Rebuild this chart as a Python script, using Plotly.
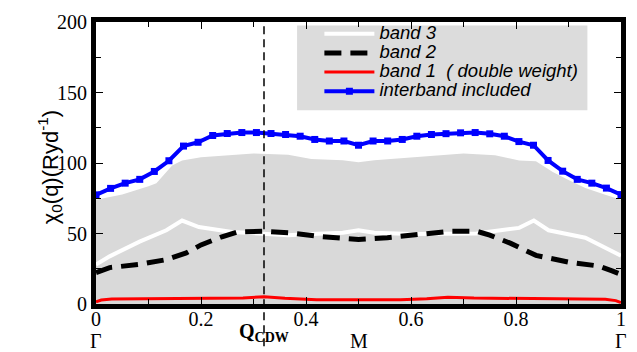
import plotly.graph_objects as go

# ---------------- data ----------------
q_inter = [i / 36 for i in range(37)]
chi_inter = [77.4, 82.0, 85.7, 88.4, 94.0, 101.6, 112.0, 114.7, 119.5, 120.9, 121.6, 121.6, 120.9,
             120.2, 119.0, 116.7, 115.6, 115.6, 112.6, 115.6, 115.6, 116.7, 119.0, 120.2,
             120.8, 121.4, 121.6, 120.7, 119.0, 115.2, 112.6, 101.8, 94.2, 88.4, 85.7, 82.2, 77.6]

q_fill = [0, 0.05, 0.1, 0.115, 0.145, 0.164, 0.2, 0.24, 0.3, 0.366, 0.41, 0.47, 0.5, 0.53,
          0.6, 0.65, 0.7, 0.76, 0.806, 0.838, 0.87, 0.9, 0.932, 0.97, 1.0]
chi_fill = [74, 77.6, 83.5, 85.7, 98.3, 101.8, 104, 105.2, 106.8, 105.9, 102.9, 102, 100.6, 102,
            104, 105.2, 106.8, 105.5, 101.8, 101.3, 93.7, 88, 82.2, 77.5, 74]

q_band3 = [0, 0.026, 0.083, 0.134, 0.164, 0.196, 0.259, 0.303, 0.366, 0.41, 0.47, 0.5, 0.53,
           0.6, 0.65, 0.725, 0.745, 0.806, 0.834, 0.862, 0.932, 0.976, 1.0]
chi_band3 = [28, 33.8, 44.2, 52.3, 59.2, 54.6, 51.1, 50, 48.8, 49.6, 50.5, 52.3, 50.5,
             49.6, 49.6, 50, 51, 54, 59.2, 52.3, 47, 38.9, 34.3]

q_band2 = [0, 0.026, 0.083, 0.134, 0.172, 0.2, 0.24, 0.27, 0.32, 0.366, 0.43, 0.5, 0.555,
           0.611, 0.674, 0.725, 0.75, 0.79, 0.838, 0.9, 0.958, 0.983, 1.0]
chi_band2 = [22.3, 25.8, 28.1, 31.5, 36.2, 41.9, 47.7, 51.1, 51.6, 50.6, 47.7, 45.8, 47,
             48.8, 51.6, 51.6, 48.8, 43, 34.5, 29.7, 26.9, 23.5, 21]

q_band1 = [0, 0.01, 0.03, 0.1, 0.2, 0.28, 0.32, 0.36, 0.42, 0.5, 0.58, 0.63, 0.67, 0.72,
           0.8, 0.9, 0.97, 0.99, 1.0]
chi_band1 = [1.5, 2.8, 3.6, 3.8, 4.0, 4.2, 5.2, 4.0, 3.0, 2.8, 3.0, 3.8, 4.8, 4.2,
             3.9, 3.9, 3.4, 2.4, 1.0]

series_names = ["band 3", "band 2", "band 1\u00a0\u00a0( double weight)", "interband included"]
q_cdw = [0.32]
path_labels = ["Γ", "M", "Γ"]
path_pos = [0.0, 0.5, 1.0]
cdw_label = "<b>Q<sub>CDW</sub></b>"
x_ticks = [0, 0.2, 0.4, 0.6, 0.8, 1]
x_ticktext = ["0", "0.2", "0.4", "0.6", "0.8", "1"]
y_ticks = [0, 50, 100, 150, 200]


def leg(name):
    return '<span style="font-size:18.5px">' + name + "</span>"


# ---------------- figure ----------------
fig = go.Figure()
fig.add_trace(go.Scatter(x=q_fill, y=chi_fill, mode="lines", fill="tozeroy",
                         fillcolor="#d9d9d9", line=dict(width=0, color="#d9d9d9"),
                         showlegend=False, hoverinfo="skip"))
fig.add_trace(go.Scatter(x=q_band3, y=chi_band3, mode="lines", name=leg(series_names[0]),
                         line=dict(color="white", width=4)))
fig.add_trace(go.Scatter(x=q_band2, y=chi_band2, mode="lines", name=leg(series_names[1]),
                         line=dict(color="black", width=5, dash="17px,9px")))
fig.add_trace(go.Scatter(x=q_band1, y=chi_band1, mode="lines", name=leg(series_names[2]),
                         line=dict(color="#ff0000", width=3)))
fig.add_trace(go.Scatter(x=q_inter, y=chi_inter, mode="lines+markers", name=leg(series_names[3]),
                         line=dict(color="#0000ff", width=4),
                         marker=dict(symbol="square", size=7, color="#0000ff")))

# legend background box
fig.add_shape(type="rect", xref="paper", yref="paper", x0=0.383, x1=0.936, y0=0.687, y1=0.988,
              fillcolor="#dcdcdc", line=dict(width=0), layer="below")

fig.add_shape(type="line", xref="x", yref="paper", x0=q_cdw[0], x1=q_cdw[0], y0=-0.15, y1=1,
              line=dict(color="black", width=1.5, dash="8px,5px"), layer="above")

for lab, pos in zip(path_labels, path_pos):
    fig.add_annotation(x=pos, y=-0.132, xref="x", yref="paper", text=lab, showarrow=False,
                       xanchor="center", yanchor="middle",
                       font=dict(family="Liberation Serif", size=20, color="black"))
fig.add_annotation(x=q_cdw[0], y=-0.1, xref="x", yref="paper", text=cdw_label, showarrow=False,
                   xanchor="center", yanchor="middle",
                   font=dict(family="Liberation Serif", size=20, color="black"))

fig.add_annotation(x=-0.088, y=0.484, xref="paper", yref="paper",
                   text="χ<sub>0</sub>(q)(Ryd<sup>-1</sup>)", textangle=-90, showarrow=False,
                   xanchor="center", yanchor="middle",
                   font=dict(family="Liberation Sans", size=22, color="black"))

axis_common = dict(showline=True, linewidth=5, linecolor="black", mirror="ticks",
                   ticks="inside", ticklen=7, tickwidth=1, tickcolor="black",
                   showgrid=False, zeroline=False,
                   tickfont=dict(family="Liberation Serif", size=20, color="black"))

fig.update_layout(
    width=637, height=352,
    margin=dict(l=96, r=11, t=15, b=48),
    plot_bgcolor="white", paper_bgcolor="white",
    xaxis=dict(range=[0, 1], tickvals=x_ticks, ticktext=x_ticktext, ticklabelstandoff=-7,
               minor=dict(dtick=0.1, ticks="inside", ticklen=5, tickcolor="black"),
               **axis_common),
    yaxis=dict(range=[0, 200], tickvals=y_ticks,
               minor=dict(dtick=25, ticks="inside", ticklen=5, tickcolor="black"),
               **axis_common),
    legend=dict(x=0.4255, y=1.0097, xanchor="left", yanchor="top",
                bgcolor="rgba(0,0,0,0)", borderwidth=0, itemwidth=50,
                font=dict(family="Liberation Sans", size=12.4, color="black", style="italic"),
                tracegroupgap=0),
    showlegend=True,
)

fig.write_html("out.html")
